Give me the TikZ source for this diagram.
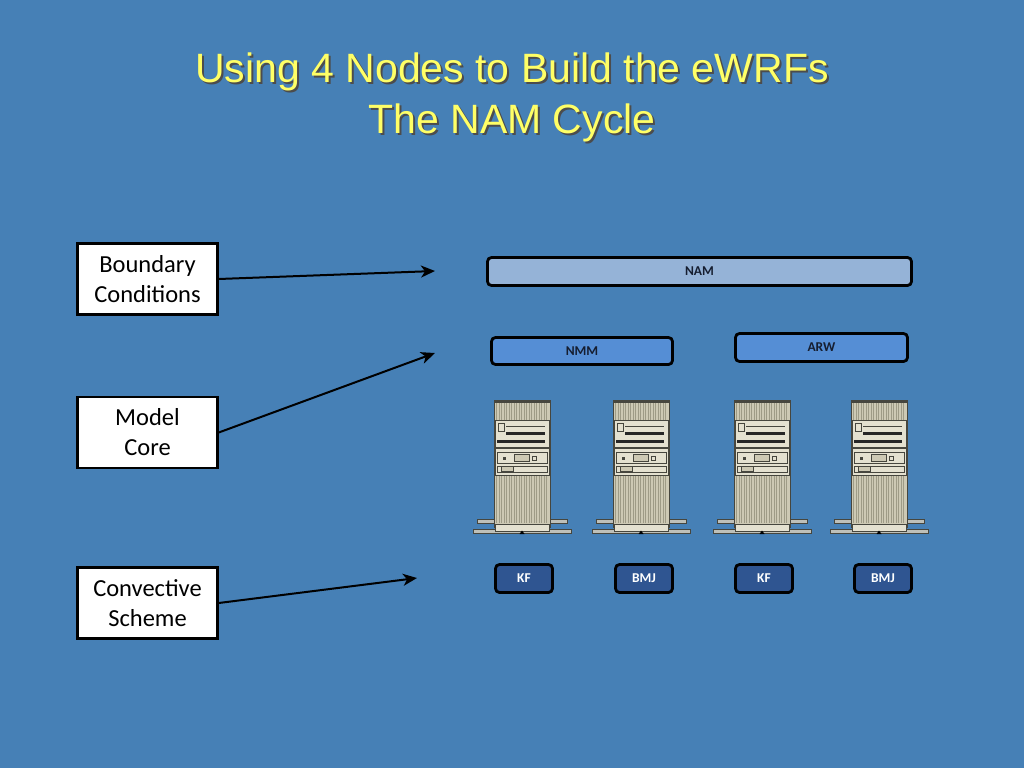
\documentclass[tikz,border=0pt]{standalone}
\usepackage{fontspec}
\setmainfont{Carlito}
\newfontfamily\titlefont{Liberation Sans}
\usetikzlibrary{arrows.meta}
\definecolor{bg}{RGB}{70,128,182}
\definecolor{titleyellow}{RGB}{255,255,102}
\definecolor{namfill}{RGB}{149,179,215}
\definecolor{corefill}{RGB}{85,142,213}
\definecolor{schemefill}{RGB}{47,85,145}
\definecolor{labeldark}{RGB}{22,30,48}
\definecolor{srvbody}{RGB}{205,201,180}
\definecolor{srvstripe}{RGB}{158,155,134}
\definecolor{srvpanel}{RGB}{228,225,208}
\definecolor{srvline}{RGB}{70,70,62}
\definecolor{srvfoot}{RGB}{190,192,185}
\tikzset{
  titletext/.style={font=\titlefont\fontsize{41}{48}\selectfont, text=titleyellow, anchor=base, inner sep=0pt},
  titleshadow/.style={font=\titlefont\fontsize{41}{48}\selectfont, text=black!70, anchor=base, inner sep=0pt},
  sidebox/.style={draw=black, line width=2.5pt, fill=white, minimum width=140pt, minimum height=71pt,
    align=center, font=\fontsize{24.5}{30}\selectfont, inner sep=0pt},
  levelbox/.style={draw=black, line width=2.8pt, rounded corners=4pt, inner sep=0pt,
    font=\bfseries\fontsize{13.5}{15}\selectfont, text=labeldark},
  schemebox/.style={levelbox, fill=schemefill, text=white, minimum width=57pt, minimum height=28pt},
  pointer/.style={draw=black, line width=2pt, -{Stealth[length=14pt,width=12pt,inset=4pt]}},
  server/.pic={
    % feet
    \filldraw[fill=srvfoot, draw=srvline, line width=0.6pt] (-45,119) rectangle (45,123);
    \filldraw[fill=srvfoot, draw=srvline, line width=0.6pt] (-49,129.5) rectangle (49,133);
    % body
    \filldraw[fill=srvbody, draw=srvline, line width=0.8pt] (-28,0) rectangle (28,127);
    \fill[srvline] (-28,0) rectangle (28,2.5);
    \foreach \i in {-25.5,-23,...,26} {
      \draw[srvstripe, line width=0.6pt] (\i,3) -- (\i,20);
      \draw[srvstripe, line width=0.6pt] (\i,76) -- (\i,123);
    }
    % drive panel
    \filldraw[fill=srvpanel, draw=srvline, line width=0.7pt] (-27,20) rectangle (27,47);
    \filldraw[fill=srvpanel, draw=srvline, line width=0.5pt] (-24,23) rectangle (-18,31);
    \fill[black!85] (-16,32) rectangle (23,34.5);
    \fill[black!85] (-25,40) rectangle (23,43);
    \draw[srvline, line width=0.5pt] (-16,26) -- (23,26);
    % middle panel
    \filldraw[fill=srvpanel, draw=srvline, line width=0.7pt] (-27,48) rectangle (27,75);
    \draw[srvline, line width=0.5pt] (-25,52) rectangle (25,63);
    \filldraw[fill=srvbody, draw=srvline, line width=0.6pt] (-8,54) rectangle (7,61);
    \fill[srvline] (-19,57) rectangle (-16,60);
    \filldraw[fill=srvpanel, draw=srvline, line width=0.5pt] (10,56) rectangle (14,60);
    \draw[srvline, line width=0.5pt] (-25,66) rectangle (25,72);
    \filldraw[fill=srvbody, draw=srvline, line width=0.5pt] (-21,66) rectangle (-9,71);
    % plinth
    \filldraw[fill=srvpanel, draw=srvline, line width=0.6pt] (-27,124) rectangle (27,131);
    \fill[black] (-2.5,134) -- (0,130.5) -- (2.5,134) -- cycle;
  }
}
\begin{document}
\begin{tikzpicture}[x=1pt,y=-1pt]
\fill[bg] (0,0) rectangle (1024,768);
\useasboundingbox (0,0) rectangle (1024,768);

% title
\node[titleshadow] (t1s) at (514,84) {Using 4 Nodes to Build the eWRFs};
\node[titletext] (t1) at (512,82) {Using 4 Nodes to Build the eWRFs};
\node[titleshadow] (t2s) at (514,135) {The NAM Cycle};
\node[titletext] (t2) at (512,133) {The NAM Cycle};

% left boxes
\node[sidebox] (bc) at (147.5,279) {Boundary\\Conditions};
\node[sidebox] (mc) at (147.5,432.5) {Model\\Core};
\node[sidebox] (cs) at (147.5,603) {Convective\\Scheme};

% arrow targets
\coordinate (bcend) at (435,271);
\coordinate (mcend) at (435,353);
\coordinate (csend) at (417,578);
\draw[pointer] (bc.east) -- (bcend);
\draw[pointer] (mc.east) -- (mcend);
\draw[pointer] (cs.east) -- (csend);

% level boxes
\node[levelbox, fill=namfill, minimum width=424pt, minimum height=28pt] (nam) at (699.5,271.5) {NAM};
\node[levelbox, fill=corefill, minimum width=181pt, minimum height=27pt] (nmm) at (582,351) {NMM};
\node[levelbox, fill=corefill, minimum width=172pt, minimum height=28pt] (arw) at (821.5,347.5) {ARW};

% servers
\pic (s1) at (522,400) {server};
\pic (s2) at (641,400) {server};
\pic (s3) at (762,400) {server};
\pic (s4) at (879,400) {server};

% schemes
\node[schemebox] (kf1) at (524,578.5) {KF};
\node[schemebox] (bmj1) at (644,578.5) {BMJ};
\node[schemebox] (kf2) at (764,578.5) {KF};
\node[schemebox] (bmj2) at (883,578.5) {BMJ};
\end{tikzpicture}
\end{document}
